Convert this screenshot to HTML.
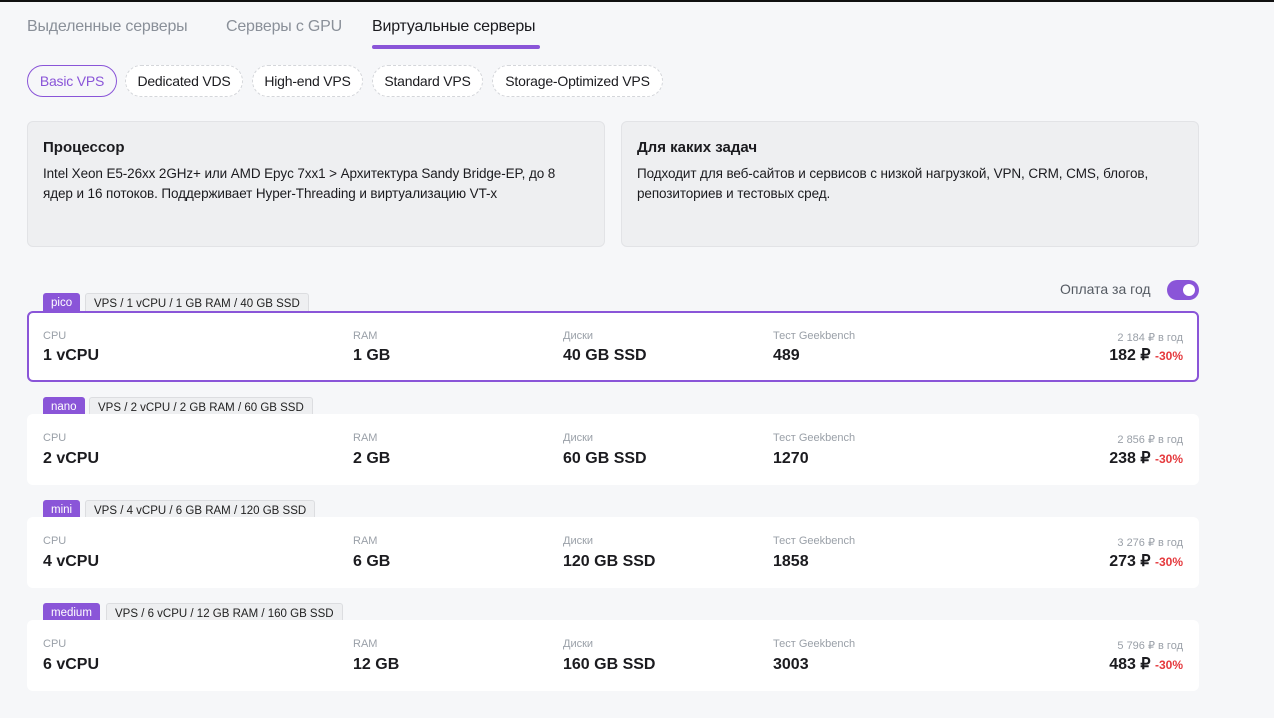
<!DOCTYPE html>
<html><head><meta charset="utf-8"><style>
*{box-sizing:border-box;margin:0;padding:0}
body{width:1274px;height:718px;background:#f6f7f9;font-family:"Liberation Sans",sans-serif;position:relative;overflow:hidden;color:#1b1b1f}
.topline{position:absolute;left:0;top:0;width:1274px;height:2px;background:#111}
.abs{position:absolute}
.tab{position:absolute;top:18px;font-size:16px;color:#8a9099;letter-spacing:-0.2px}
.tab.act{color:#1b1b1f}
.ul{position:absolute;left:372px;top:45px;width:168px;height:4px;border-radius:2px;background:#8a55d8}
.pill{position:absolute;top:65px;height:32px;border:1px dashed #d4d6da;border-radius:16px;font-size:14px;line-height:30px;text-align:center;background:#fff;letter-spacing:-0.2px}
.pill.act{border:1px solid #8a55d8;color:#8a55d8;background:#f6f7f9}
.box{position:absolute;top:121px;height:126px;width:578px;background:#eeeff1;border:1px solid #e2e3e6;border-radius:6px;padding:17px 15px}
.box h3{font-size:15px;font-weight:bold;margin-bottom:8px}
.box p{font-size:13.5px;line-height:20px;letter-spacing:-0.1px}
.tag{position:absolute;height:21px;font-size:11.5px;line-height:20px;padding:0 8px;border-radius:3px}
.tname{background:#8a55d8;color:#fff}
.tspec{background:#eeeff1;border:1px solid #dcdde0;color:#222}
.card{position:absolute;left:27px;width:1172px;height:71px;background:#fff;border-radius:6px}
.card.sel{border:2px solid #8a55d8}
.lbl{position:absolute;top:18px;font-size:11px;color:#9aa0a8}
.val{position:absolute;top:33px;font-size:16px;font-weight:bold}
.old{position:absolute;right:16px;top:18px;font-size:11px;color:#9aa0a8}
.price{position:absolute;right:16px;top:31px;font-size:16px;font-weight:bold;white-space:nowrap}
.price span{font-size:12px;color:#e5393d}
.toggle{position:absolute;left:1167px;top:280px;width:32px;height:20px;border-radius:10px;background:#8a55d8}
.toggle i{position:absolute;right:4px;top:4px;width:12px;height:12px;border-radius:6px;background:#fff}
</style></head><body>
<div class="topline"></div>
<div class="tab" style="left:27px">Выделенные серверы</div>
<div class="tab" style="left:226px">Серверы с GPU</div>
<div class="tab act" style="left:372px">Виртуальные серверы</div>
<div class="ul"></div>
<div class="pill act" style="left:27px;width:90px">Basic VPS</div>
<div class="pill" style="left:125px;width:118px">Dedicated VDS</div>
<div class="pill" style="left:252px;width:111px">High-end VPS</div>
<div class="pill" style="left:372px;width:111px">Standard VPS</div>
<div class="pill" style="left:492px;width:171px">Storage-Optimized VPS</div>
<div class="box" style="left:27px"><h3>Процессор</h3><p>Intel Xeon E5-26xx 2GHz+ или AMD Epyc 7xx1 &gt; Архитектура Sandy Bridge-EP, до 8<br>ядер и 16 потоков. Поддерживает Hyper-Threading и виртуализацию VT-x</p></div>
<div class="box" style="left:621px"><h3>Для каких задач</h3><p>Подходит для веб-сайтов и сервисов с низкой нагрузкой, VPN, CRM, CMS, блогов, репозиториев и тестовых сред.</p></div>
<div class="abs" style="left:1060px;top:281px;font-size:14px;color:#555b63">Оплата за год</div>
<div class="toggle"><i></i></div>

<div class="tag tname" style="left:43px;top:293px">pico</div>
<div class="tag tspec" style="left:85px;top:293px">VPS / 1 vCPU / 1 GB RAM / 40 GB SSD</div>
<div class="card sel" style="top:311px">
<div class="lbl" style="left:14px;top:17px">CPU</div><div class="val" style="left:14px;top:34px">1 vCPU</div>
<div class="lbl" style="left:324px;top:17px">RAM</div><div class="val" style="left:324px;top:34px">1 GB</div>
<div class="lbl" style="left:534px;top:17px">Диски</div><div class="val" style="left:534px;top:34px">40 GB SSD</div>
<div class="lbl" style="left:744px;top:17px">Тест Geekbench</div><div class="val" style="left:744px;top:34px">489</div>
<div class="old" style="right:14px;top:18px">2 184 ₽ в год</div><div class="price" style="right:14px;top:32px">182 ₽ <span>-30%</span></div></div>

<div class="tag tname" style="left:43px;top:397px">nano</div>
<div class="tag tspec" style="left:89px;top:397px">VPS / 2 vCPU / 2 GB RAM / 60 GB SSD</div>
<div class="card" style="top:414px">
<div class="lbl" style="left:16px">CPU</div><div class="val" style="left:16px;top:36px">2 vCPU</div>
<div class="lbl" style="left:326px">RAM</div><div class="val" style="left:326px;top:36px">2 GB</div>
<div class="lbl" style="left:536px">Диски</div><div class="val" style="left:536px;top:36px">60 GB SSD</div>
<div class="lbl" style="left:746px">Тест Geekbench</div><div class="val" style="left:746px;top:36px">1270</div>
<div class="old" style="top:19px">2 856 ₽ в год</div><div class="price" style="top:34px">238 ₽ <span>-30%</span></div></div>

<div class="tag tname" style="left:43px;top:500px">mini</div>
<div class="tag tspec" style="left:85px;top:500px">VPS / 4 vCPU / 6 GB RAM / 120 GB SSD</div>
<div class="card" style="top:517px">
<div class="lbl" style="left:16px">CPU</div><div class="val" style="left:16px;top:36px">4 vCPU</div>
<div class="lbl" style="left:326px">RAM</div><div class="val" style="left:326px;top:36px">6 GB</div>
<div class="lbl" style="left:536px">Диски</div><div class="val" style="left:536px;top:36px">120 GB SSD</div>
<div class="lbl" style="left:746px">Тест Geekbench</div><div class="val" style="left:746px;top:36px">1858</div>
<div class="old" style="top:19px">3 276 ₽ в год</div><div class="price" style="top:34px">273 ₽ <span>-30%</span></div></div>

<div class="tag tname" style="left:43px;top:603px">medium</div>
<div class="tag tspec" style="left:106px;top:603px">VPS / 6 vCPU / 12 GB RAM / 160 GB SSD</div>
<div class="card" style="top:620px">
<div class="lbl" style="left:16px">CPU</div><div class="val" style="left:16px;top:36px">6 vCPU</div>
<div class="lbl" style="left:326px">RAM</div><div class="val" style="left:326px;top:36px">12 GB</div>
<div class="lbl" style="left:536px">Диски</div><div class="val" style="left:536px;top:36px">160 GB SSD</div>
<div class="lbl" style="left:746px">Тест Geekbench</div><div class="val" style="left:746px;top:36px">3003</div>
<div class="old" style="top:19px">5 796 ₽ в год</div><div class="price" style="top:34px">483 ₽ <span>-30%</span></div></div>
</body></html>
